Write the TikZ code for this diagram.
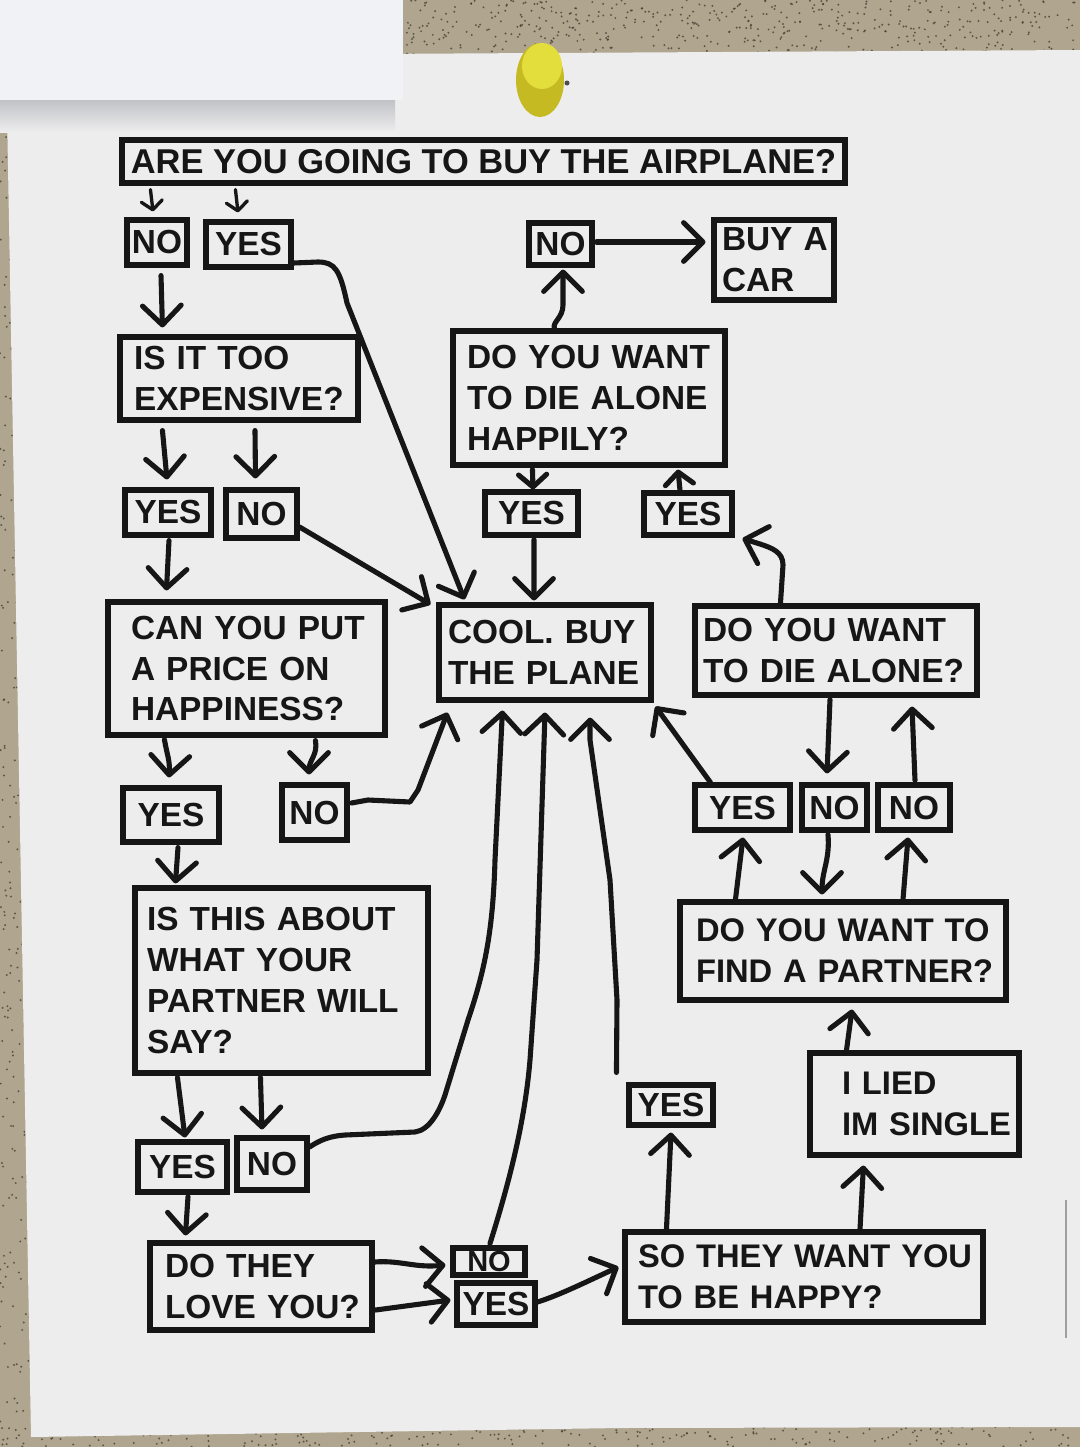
\documentclass[tikz,border=0pt]{standalone}
\usepackage{fontspec}
\newfontfamily\flow{Liberation Sans}
\usetikzlibrary{arrows.meta,calc}
\definecolor{ink}{RGB}{22,22,22}
\definecolor{paperc}{RGB}{237,237,238}
\definecolor{sheetc}{RGB}{240,242,245}
\definecolor{corkc}{RGB}{176,165,142}
\definecolor{speck}{RGB}{60,55,45}
\definecolor{shadowc}{RGB}{190,191,196}
\definecolor{pinA}{RGB}{228,222,60}
\definecolor{pinB}{RGB}{198,186,34}
\begin{document}
\begin{tikzpicture}[x=0.02cm,y=-0.02cm,
  bx/.style={draw=ink, line width=2.9pt, text=ink, font=\flow\bfseries\fontsize{19}{23.3}\selectfont},
  lb/.style={bx, inner sep=0pt},
  qb/.style={bx, align=left, inner ysep=0pt},
  sz/.style 2 args={minimum width=#1*0.02cm, minimum height=#2*0.02cm},
  pad/.style={inner xsep=#1*0.02cm},
  sm/.style={font=\flow\bfseries\fontsize{18.6}{23.3}\selectfont},
  ln/.style={draw=ink, line width=2.9pt, line cap=round, line join=round},
  ar/.style={ln, -{Straight Barb[length=11pt,width=22pt,round]}},
  mar/.style={ln, -{Straight Barb[length=7pt,width=16pt,round]}},
  sar/.style={draw=ink, line width=1.9pt, line cap=round, -{Straight Barb[length=5pt,width=12pt,round]}}
]
\useasboundingbox (0,0) rectangle (1080,1447);
\clip (0,0) rectangle (1080,1447);
% background: corkboard, paper, top sheet, pin
\fill[corkc] (0,0) rectangle (1080,1447);
\pgfmathsetseed{11}
\foreach \i in {1,...,500} {\fill[speck, opacity=0.7] (403+rnd*677, rnd*54) circle (1.1);}
\foreach \i in {1,...,250} {\fill[speck, opacity=0.7] (rnd*30, 100+rnd*1347) circle (1.1);}
\foreach \i in {1,...,250} {\fill[speck, opacity=0.7] (rnd*1080, 1425+rnd*22) circle (1.1);}
\fill[paperc] (6,56) -- (1080,50) -- (1080,1427) -- (620,1428) -- (31,1437) -- cycle;
\shade[top color=shadowc, bottom color=paperc] (0,98) rectangle (395,132);
\fill[sheetc] (0,0) rectangle (403,100);
\draw[gray!75, line width=0.7pt] (1066,1200) -- (1066,1338);
\fill[pinB] (540,80) ellipse [x radius=24, y radius=37];
\fill[pinA] (542,66) ellipse [x radius=20, y radius=23];
\fill[gray!60!black] (567,83) circle (2.5);

% boxes
\node[lb, sz={723}{43}, font=\flow\bfseries\fontsize{19.6}{24}\selectfont] (title) at (483.5,161.5) {ARE YOU GOING TO BUY THE AIRPLANE?};
\node[lb, sz={60}{45}] (no1) at (157,242.5) {NO};
\node[lb, sz={85}{45}] (yes1) at (248.5,244.5) {YES};
\node[lb, sz={63}{42}] (no2) at (560.5,244) {NO};
\node[qb, sz={120}{80}, pad=8, text width=2.08cm] (car) at (774,260) {\mbox{BUY A}\\CAR};
\node[qb, sz={238}{83}, pad=14, text width=4.2cm] (exp) at (239,378.5) {\mbox{IS IT TOO}\\\mbox{EXPENSIVE?}};
\node[qb, sz={272}{134}, pad=14, text width=4.88cm] (happily) at (589,398) {\mbox{DO YOU WANT}\\\mbox{TO DIE ALONE}\\\mbox{HAPPILY?}};
\node[lb, sz={86}{45}] (yes2) at (168,512.5) {YES};
\node[lb, sz={71}{48}] (no3) at (261.5,514) {NO};
\node[lb, sz={93}{43}] (yes3) at (531.5,513.5) {YES};
\node[lb, sz={88}{42}] (yes4) at (688,514) {YES};
\node[qb, sz={277}{133}, pad=23, text width=4.62cm] (price) at (246.5,668.5) {\mbox{CAN YOU PUT}\\\mbox{A PRICE ON}\\\mbox{HAPPINESS?}};
\node[qb, sz={212}{95}, pad=9, text width=3.88cm] (cool) at (545,652.5) {\mbox{COOL. BUY}\\\mbox{THE PLANE}};
\node[qb, sz={282}{89}, pad=8, text width=5.32cm] (diealone) at (836,650.5) {\mbox{DO YOU WANT}\\\mbox{TO DIE ALONE?}};
\node[lb, sz={96}{54}] (yes5) at (171,815) {YES};
\node[lb, sz={65}{55}] (no4) at (314.5,812.5) {NO};
\node[lb, sz={95}{45}] (yes6) at (742.5,807.5) {YES};
\node[lb, sz={65}{45}] (no5) at (834.5,807.5) {NO};
\node[lb, sz={72}{45}] (no6) at (914,807.5) {NO};
\node[qb, sz={293}{185}, pad=12, text width=5.38cm] (thisabout) at (281.5,980.5) {\mbox{IS THIS ABOUT}\\\mbox{WHAT YOUR}\\\mbox{PARTNER WILL}\\\mbox{SAY?}};
\node[qb, sm, sz={326}{98}, pad=16, text width=5.88cm] (partner) at (843,951) {\mbox{DO YOU WANT TO}\\\mbox{FIND A PARTNER?}};
\node[qb, sm, sz={209}{102}, pad=32, text width=2.9cm] (lied) at (914.5,1104) {\mbox{I LIED}\\\mbox{IM SINGLE}};
\node[lb, sz={84}{40}] (yes7) at (671,1105) {YES};
\node[lb, sz={89}{50}] (yes8) at (182.5,1167) {YES};
\node[lb, sz={70}{52}] (no7) at (272,1164) {NO};
\node[qb, sz={222}{87}, pad=15, text width=3.84cm] (love) at (261,1286.5) {\mbox{DO THEY}\\\mbox{LOVE YOU?}};
\node[lb, sz={72}{27}, font=\flow\bfseries\fontsize{16.5}{20}\selectfont] (no8) at (489,1261.5) {NO};
\node[lb, sz={78}{42}] (yes9) at (496,1304) {YES};
\node[qb, sm, sz={358}{90}, pad=13, text width=6.64cm] (happy) at (804,1277) {\mbox{SO THEY WANT YOU}\\\mbox{TO BE HAPPY?}};

% connectors
\draw[sar] ($(title.south west)+(31,4)$) -- ($(no1.north)+(-4,-6)$);
\draw[sar] ($(title.south west)+(116,4)$) -- ($(yes1.north)+(-10.5,-7)$);
\draw[ar] ($(no1.south)+(4,8)$) -- ($(exp.north west)+(45,-7)$);
\draw[ar] ($(yes1.east)+(0,18.5)$) -- (318,262) .. controls (335,262) and (340,270) .. (347,303) -- ($(cool.north west)+(28,-3)$);
\draw[ar] ($(exp.south west)+(45,8)$) -- ($(yes2.north)+(-1,-8)$);
\draw[ar] ($(exp.south)+(16,8)$) -- ($(no3.north)+(-6,-9)$);
\draw[ar] ($(yes2.south)+(1,3)$) -- ($(price.north west)+(61,-9)$);
\draw[ar] ($(no3.east)+(0,13)$) -- ($(cool.north west)+(-6,2)$);
\draw[mar] ($(happily.south west)+(82,2)$) -- ($(yes3.north)+(1.5,0)$);
\draw[ar] ($(yes3.south)+(2.5,2)$) -- ($(cool.north)+(-11,-2)$);
\draw[mar] ($(yes4.north)+(-8,0)$) -- ($(happily.south)+(89,2)$);
\draw[ar] ($(happily.north west)+(104,0)$) .. controls (552,322) and (563,318) .. (563,305) -- ($(no2.south)+(2.5,2)$);
\draw[ar] ($(no2.east)+(2,-2)$) -- ($(car.west)+(-6,-18)$);
\draw[ar] ($(diealone.north west)+(88,0)$) -- (783,565) .. controls (783,552) and (772,548) .. (760,544) -- ($(yes4.south east)+(8,1)$);
\draw[ar] ($(price.south west)+(59,2)$) .. controls (167,755) and (170,760) .. ($(yes5.north)+(-2,-8)$);
\draw[ar] ($(price.south west)+(210,3)$) .. controls (318,755) and (309,760) .. ($(no4.north)+(-5.5,-8)$);
\draw[ar] ($(no4.east)+(2,-9.5)$) -- (368,800) -- (410,802) -- (418,790) -- ($(cool.south west)+(11,10)$);
\draw[ar] ($(yes5.south)+(7,3)$) -- ($(thisabout.north west)+(43,-2)$);
\draw[ar] ($(diealone.south)+(-6,2)$) -- ($(no5.north)+(-7.5,-9)$);
\draw[ar] ($(no6.north)+(1,-2)$) -- ($(diealone.south)+(76,9)$);
\draw[ar] ($(yes6.north west)+(18,0)$) -- ($(cool.south east)+(2,4)$);
\draw[ar] ($(partner.north west)+(58,0)$) -- ($(yes6.south)+(0.5,5)$);
\draw[ar] ($(no5.south)+(-6.5,2)$) .. controls (830,860) and (822,870) .. ($(partner.north)+(-21,-5)$);
\draw[ar] ($(partner.north)+(60,0)$) -- ($(no6.south)+(-6,5)$);
\draw[ar] ($(thisabout.south west)+(45,2)$) -- ($(yes8.north)+(2.5,-2)$);
\draw[ar] ($(thisabout.south west)+(128,2)$) -- ($(no7.north)+(-10,-6)$);
\draw[ar] ($(no7.east)+(0,-17)$) .. controls (320,1140) and (330,1136) .. (345,1135) -- (415,1132) .. controls (430,1130) and (440,1110) .. (445,1095) -- (468,1020) .. controls (485,970) and (493,930) .. (495,860) -- ($(cool.south west)+(66,8)$);
\draw[ar] ($(yes8.south)+(5.5,2)$) -- ($(love.north west)+(38,-5)$);
\draw[ar] ($(love.east)+(0,-24.5)$) .. controls (400,1260) and (415,1268) .. ($(no8.west)+(-5,3.5)$);
\draw[ar] ($(love.east)+(1,23.5)$) -- ($(yes9.west)+(-4,-4)$);
\draw[ar] ($(no8.north)+(1,-2)$) .. controls (510,1180) and (525,1120) .. (530,1060) -- (537,960) -- ($(cool.south)+(0,10)$);
\draw[ar] ($(yes9.east)+(0,-2)$) .. controls (560,1295) and (590,1280) .. ($(happy.west)+(-4,-10)$);
\draw[ar] ($(happy.north west)+(44,0)$) -- ($(yes7.south)+(0,5)$);
\draw[ar] ($(yes7.north west)+(-10,-10)$) -- (617,1000) -- (610,880) -- (590,740) -- ($(cool.south)+(45,15)$);
\draw[ar] ($(happy.north)+(56,0)$) -- ($(lied.south west)+(56,8)$);
\draw[ar] ($(lied.north west)+(39,0)$) -- ($(partner.south)+(9,7)$);
\end{tikzpicture}
\end{document}
